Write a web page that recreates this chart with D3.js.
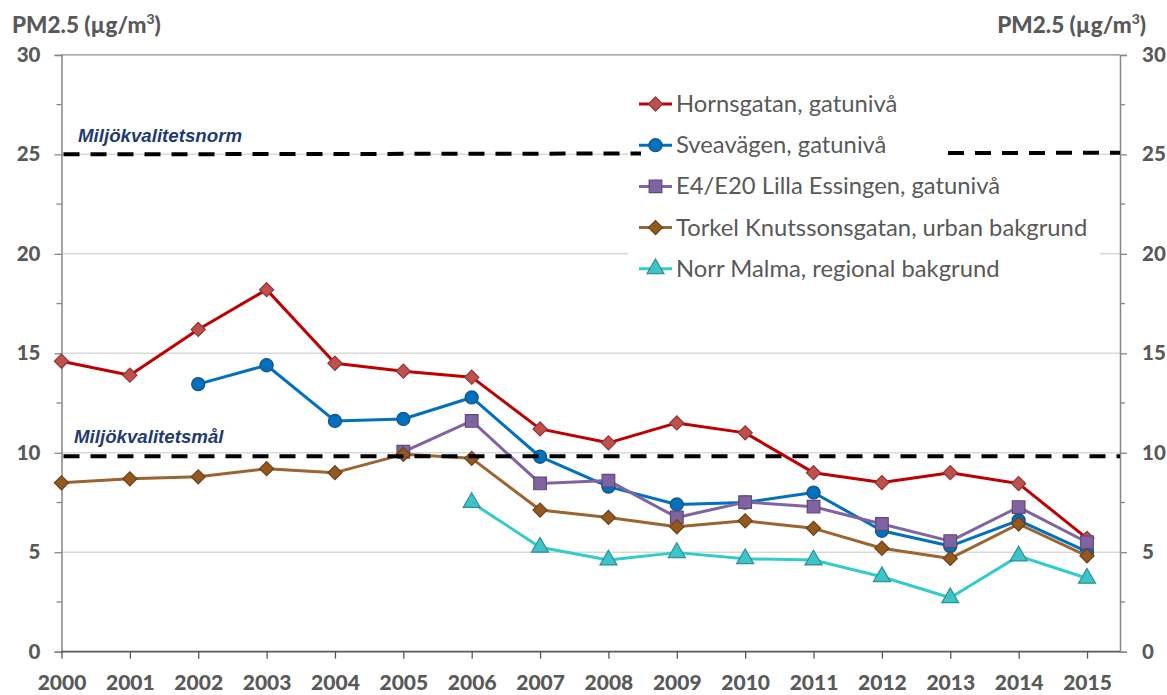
<!DOCTYPE html>
<html><head><meta charset="utf-8">
<script src="https://cdn.jsdelivr.net/npm/d3@7"></script>
<style>body{margin:0;background:#fff}svg{display:block}</style>
</head><body>
<svg id="chart" width="1167" height="695"></svg>
<script>
const years = [2000,2001,2002,2003,2004,2005,2006,2007,2008,2009,2010,2011,2012,2013,2014,2015];
const hornsgatan = [14.6,13.9,16.2,18.2,14.5,14.1,13.8,11.2,10.5,11.5,11.0,9.0,8.5,9.0,8.45,5.7];
const sveavagen  = [null,null,13.45,14.4,11.6,11.7,12.78,9.8,8.3,7.4,7.5,8.0,6.08,5.31,6.6,5.03];
const essingen   = [null,null,null,null,null,10.05,11.6,8.46,8.6,6.75,7.52,7.29,6.42,5.56,7.27,5.5];
const torkel     = [8.49,8.69,8.79,9.2,9.0,9.92,9.72,7.12,6.75,6.28,6.58,6.2,5.2,4.69,6.42,4.82];
const norrMalma  = [null,null,null,null,null,null,7.5,5.25,4.61,4.98,4.67,4.61,3.77,2.71,4.81,3.69];
const seriesNames = ["Hornsgatan, gatunivå","Sveavägen, gatunivå","E4/E20 Lilla Essingen, gatunivå","Torkel Knutssonsgatan, urban bakgrund","Norr Malma, regional bakgrund"];
const yTicks = [0,5,10,15,20,25,30];
const normValues = [25.0, 25.08];   // Miljökvalitetsnorm (left end, right end)
const malValue = 9.83;              // Miljökvalitetsmål
const yTitle = "PM2.5 (µg/m";

const styles = [
  {line:"#c00000", fill:"#c0504d", stroke:"#8c3836", shape:"diamond"},
  {line:"#0070c0", fill:"#0070c0", stroke:"#1f4e79", shape:"circle"},
  {line:"#8064a2", fill:"#8064a2", stroke:"#5f497a", shape:"square"},
  {line:"#9c6430", fill:"#93591f", stroke:"#6b4117", shape:"diamond"},
  {line:"#33cccc", fill:"#3cc4c8", stroke:"#2e8e99", shape:"triangle"}
];
const data = [hornsgatan, sveavagen, essingen, torkel, norrMalma];

const svg = d3.select("#chart");
const L = 61.5, R = 1120, T = 54.9, B = 651.7;
const x = d3.scaleLinear().domain([2000,2015]).range([L, 1087]);
const y = d3.scaleLinear().domain([0,30]).range([B, T]);
const grey = "#595959";

// gridlines
svg.append("g").selectAll("line").data(yTicks.filter(v=>v>0 && v<30)).join("line")
  .attr("x1",L).attr("x2",R).attr("y1",d=>y(d)).attr("y2",d=>y(d))
  .attr("stroke","#d9d9d9").attr("stroke-width",1.5);
svg.append("line").attr("x1",L).attr("x2",R).attr("y1",y(30)).attr("y2",y(30))
  .attr("stroke","#8c8c8c").attr("stroke-width",1.3);

// y axes
const yLeft = d3.axisLeft(y).tickValues(yTicks).tickSize(7).tickFormat(d3.format("d"));
const gl = svg.append("g").attr("transform",`translate(${L},0)`).call(yLeft);
const yRight = d3.axisRight(y).tickValues(yTicks).tickSize(7).tickFormat(d3.format("d"));
const gr = svg.append("g").attr("transform",`translate(${R},0)`).call(yRight);
[gl,gr].forEach(g=>{
  g.select(".domain").attr("stroke","#868686").attr("stroke-width",1.5);
  g.selectAll(".tick line").attr("stroke","#868686").attr("stroke-width",1.3);
  g.selectAll(".tick text").attr("fill",grey).attr("font-family","Lato").attr("font-weight","900").attr("font-size",20.5);
});
gl.selectAll(".tick text").attr("x",-21);
gr.selectAll(".tick text").attr("x",22);
const minor = d3.range(2.5,30,5);
svg.append("g").selectAll("line").data(minor).join("line")
  .attr("x1",L-5).attr("x2",L).attr("y1",d=>y(d)).attr("y2",d=>y(d)).attr("stroke","#868686").attr("stroke-width",1.3);
svg.append("g").selectAll("line").data(minor).join("line")
  .attr("x1",R).attr("x2",R+5).attr("y1",d=>y(d)).attr("y2",d=>y(d)).attr("stroke","#868686").attr("stroke-width",1.3);

// x axis
const xAxis = d3.axisBottom(x).tickValues(years).tickSize(7).tickFormat(d3.format("d"));
const gx = svg.append("g").attr("transform",`translate(0,${B})`).call(xAxis);
gx.select(".domain").remove();
svg.append("line").attr("x1",L).attr("x2",R).attr("y1",B).attr("y2",B).attr("stroke","#595959").attr("stroke-width",1.8);
gx.selectAll(".tick line").attr("stroke","#595959").attr("stroke-width",1.3);
gx.selectAll(".tick text").attr("fill",grey).attr("font-family","Lato").attr("font-weight","900").attr("font-size",21).attr("y",23);

// titles
[[12,"start"],[1146,"end"]].forEach(([tx,anc])=>{
  const t = svg.append("text").attr("x",tx).attr("y",33).attr("text-anchor",anc)
    .attr("fill",grey).attr("font-family","Lato").attr("font-weight","900").attr("font-size",22.5);
  t.append("tspan").text(yTitle);
  t.append("tspan").text("3").attr("dy",-9).attr("font-size",14);
  t.append("tspan").text(")").attr("dy",9);
});

// legend background
svg.append("rect").attr("x",628).attr("y",82).attr("width",472).attr("height",206).attr("fill","#fff");

function marker(sel, st){
  if(st.shape==="diamond"){
    sel.attr("d", d3.symbol().type(d3.symbolSquare).size(100)());
  } else {
    const sym = {circle:d3.symbolCircle, square:d3.symbolSquare, triangle:d3.symbolTriangle}[st.shape];
    const size = {circle:135, square:160, triangle:125}[st.shape];
    sel.attr("d", d3.symbol().type(sym).size(size)());
  }
  sel.attr("fill",st.fill).attr("stroke",st.stroke).attr("stroke-width",1.2);
}
const line = d3.line().defined(d=>d[1]!=null).x(d=>x(d[0])).y(d=>y(d[1]));
data.forEach((vals,i)=>{
  const st = styles[i];
  const pts = years.map((yr,j)=>[yr,vals[j]]);
  svg.append("path").datum(pts).attr("d",line).attr("fill","none")
    .attr("stroke",st.line).attr("stroke-width",3).attr("stroke-linejoin","round");
  svg.append("g").selectAll("path").data(pts.filter(p=>p[1]!=null)).join("path")
    .attr("transform",p=>`translate(${x(p[0])},${y(p[1])})${st.shape==="diamond"?" rotate(45)":""}`)
    .each(function(){ marker(d3.select(this), st); });
});

// legend
const lg = svg.append("g");
seriesNames.forEach((name,i)=>{
  const st = styles[i];
  const cy = 104 + i*41.2;
  lg.append("line").attr("x1",639).attr("x2",672).attr("y1",cy).attr("y2",cy).attr("stroke",st.line).attr("stroke-width",3);
  const m = lg.append("path").attr("transform",`translate(655.5,${cy})${st.shape==="diamond"?" rotate(45)":""}`);
  marker(m, st);
  lg.append("text").attr("x",676).attr("y",cy+8).text(name)
    .attr("fill",grey).attr("font-family","Lato").attr("font-size",23.8);
});

// reference lines
const dash = "16,11";
const normAt = px => normValues[0]+(normValues[1]-normValues[0])*(px-L)/(R-L);
svg.append("line").attr("x1",L+2).attr("x2",641).attr("y1",y(normAt(L))).attr("y2",y(normAt(641)))
  .attr("stroke","#000").attr("stroke-width",4).attr("stroke-dasharray",dash);
svg.append("line").attr("x1",948).attr("x2",R).attr("y1",y(normAt(948))).attr("y2",y(normAt(R)))
  .attr("stroke","#000").attr("stroke-width",4).attr("stroke-dasharray",dash);
svg.append("line").attr("x1",L+2).attr("x2",R).attr("y1",y(malValue)).attr("y2",y(malValue))
  .attr("stroke","#000").attr("stroke-width",4).attr("stroke-dasharray",dash);

svg.append("text").attr("x",78).attr("y",141.5).text("Miljökvalitetsnorm")
  .attr("fill","#1f3b70").attr("font-family","Liberation Sans").attr("font-weight","bold").attr("font-style","italic").attr("font-size",18.7);
svg.append("text").attr("x",74).attr("y",443).text("Miljökvalitetsmål")
  .attr("fill","#1f3b70").attr("font-family","Liberation Sans").attr("font-weight","bold").attr("font-style","italic").attr("font-size",18.7);
</script>
</body></html>
